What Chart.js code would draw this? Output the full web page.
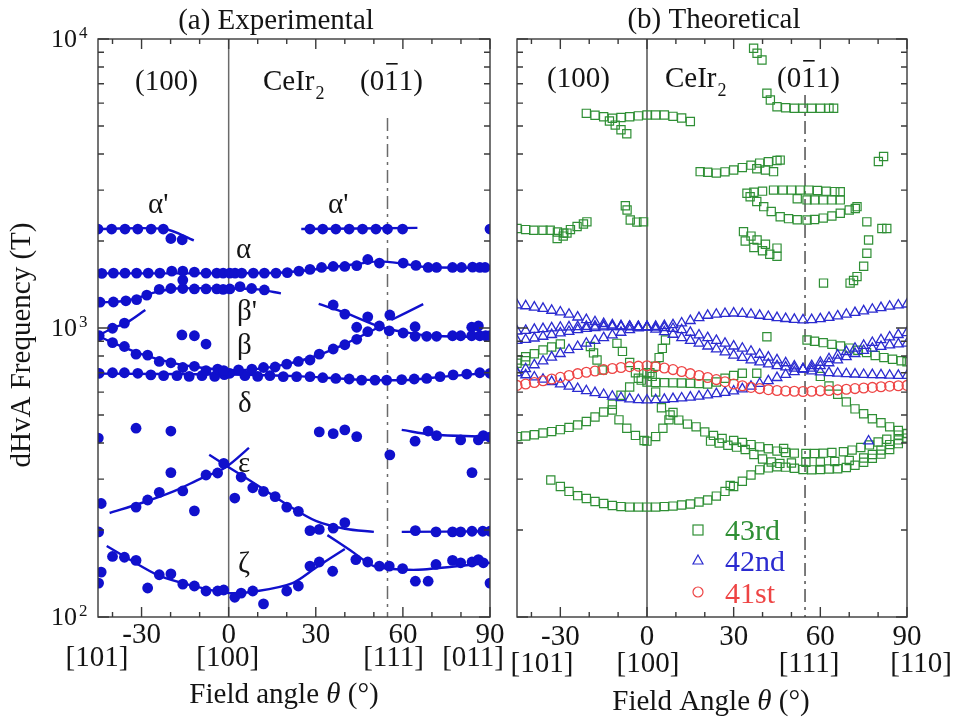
<!DOCTYPE html>
<html>
<head>
<meta charset="utf-8">
<script src="https://cdn.jsdelivr.net/npm/chart.js@4.4.1/dist/chart.umd.min.js"></script>
<style>
  html, body { margin: 0; padding: 0; background: #fff; }
  #wrap { position: relative; width: 956px; height: 719px; overflow: hidden; }
  canvas { position: absolute; top: 0; }
  #cA { left: 0; }
  #cB { left: 500px; }
</style>
</head>
<body>
<div id="wrap">
  <canvas id="cA" width="525" height="719"></canvas>
  <canvas id="cB" width="456" height="719"></canvas>
</div>
<script>
// ---- axes / tick labels ----
const xTickAngles = [-40, -30, -20, -10, 0, 10, 20, 30, 40, 50, 60, 70, 80, 90];
const xMajorAngles = [-30, 0, 30, 60, 90];
const yTickFreqs = [100, 200, 300, 400, 500, 600, 700, 800, 900,
  1000, 2000, 3000, 4000, 5000, 6000, 7000, 8000, 9000, 10000];
const yDecades = [100, 1000, 10000];
const yDecadeExp = ['2', '3', '4'];
const refAngles = [0, 54.7];
const dirAngles = [-45, 0, 54.7, 90];
const dirLabelsA = ['[101]', '[100]', '[111]', '[011]'];
const dirLabelsB = ['[101]', '[100]', '[111]', '[110]'];

// ---- (a) experimental dHvA frequencies [angle, F(T)] ----
const alphaPrimePts = [[-45, 2200], [-40.3, 2200], [-35.7, 2200], [-31.3, 2200], [-26.7, 2200], [-22.5, 2200],
  [-19.9, 2040], [-16, 2020], [28, 2200], [32.4, 2200], [36.9, 2200], [41.5, 2200], [46.1, 2200],
  [50.7, 2200], [54.7, 2200], [59.9, 2200], [90, 2200]];
const alphaPts = [[-43.7, 1545], [-39.7, 1549], [-35.7, 1549], [-31.7, 1549], [-27.7, 1549], [-23.7, 1549],
  [-19.6, 1573], [-15.8, 1573], [-11.8, 1560], [-7.8, 1549], [-4.1, 1549], [-1.9, 1549], [0.4, 1549],
  [2.2, 1549], [4.5, 1549], [8.5, 1549], [12.3, 1549], [16.3, 1549], [20.2, 1555], [24.2, 1573],
  [28, 1595], [32, 1620], [36, 1633], [40, 1633], [44.1, 1643], [47.9, 1726], [51.9, 1678], [60.1, 1678],
  [64.5, 1647], [68.7, 1620], [71.6, 1620], [77.1, 1620], [80.2, 1620], [84, 1625], [86.5, 1620], [88.3, 1620]];
const betaPrimePts = [[-44.3, 1228], [-39.7, 1230], [-35.4, 1242], [-31.7, 1253], [-28.2, 1300], [-23.9, 1360],
  [-19.9, 1370], [-15.8, 1370], [-15.8, 1465], [-11.8, 1365], [-7.8, 1365], [-4.1, 1365], [-1.9, 1360],
  [0.4, 1365], [3.9, 1390], [7.9, 1370], [12.3, 1354]];
const betaPts = [[-44.6, 940], [-40, 998], [-35.9, 1040], [-40, 890], [-35.9, 863], [-31.9, 812], [-27.9, 806],
  [-23.9, 766], [-19.9, 758], [-15.8, 730], [-11.8, 737], [-7.8, 712], [-3.8, 721], [-1.7, 712], [3.4, 716],
  [8, 721], [12, 730], [16, 733], [20, 750], [24, 766], [28, 775], [31.2, 812], [36, 846], [40, 875],
  [44.1, 914], [47.9, 971], [51.9, 1016], [55.3, 978], [-16.1, 946], [-11.8, 940], [-7.8, 880], [44.1, 1006],
  [36, 1201], [40, 1117], [47.9, 1093], [55.5, 1109], [60.1, 961], [64.2, 1010], [64.2, 936], [68.2, 936],
  [71.6, 936], [77.1, 940], [79.9, 940], [83.7, 1006], [86, 1016], [83.7, 940], [86.5, 940], [88.5, 940], [90, 940]];
const gammaPts = [[-44.6, 697], [-40, 700], [-35.9, 700], [-31.3, 697], [-26.8, 688], [-22.4, 684], [-17.8, 684],
  [-13.6, 680], [-9.2, 684], [-4.8, 680], [-1.5, 690], [0.4, 697], [5.6, 684], [10, 680], [14.2, 684],
  [18.8, 679], [23.4, 679], [28, 679], [32.4, 673], [36.9, 669], [41.5, 666], [45.8, 660], [50.4, 660],
  [54.4, 660], [59.6, 663], [63.9, 666], [68.2, 669], [72.8, 679], [77.3, 688], [82, 693], [86.5, 700], [90, 697]];
const deltaPts = [[-44.9, 416], [-31.9, 450], [-19.9, 440], [31.2, 437], [36, 431], [40, 444], [44.1, 421],
  [55.5, 364], [64.2, 406], [68.7, 440], [71.6, 424], [79.9, 410], [86, 410], [87.7, 424], [90, 419], [83.8, 316]];
const epsPts = [[-44.8, 197], [-43.9, 247], [-31.9, 240], [-27.9, 254], [-23.9, 270], [-19.9, 316], [-15.8, 273],
  [-11.8, 233], [-7.8, 310], [-3.8, 315], [-1.7, 340], [2.1, 258], [4.3, 305], [8.3, 280], [12, 272],
  [16, 261], [20, 240], [24, 232], [28, 199], [31.2, 201], [36, 203], [40, 212], [64.3, 199], [71.4, 197],
  [77.1, 197], [79.9, 197], [83.8, 198], [87.5, 198], [90, 198]];
const zetaPts = [[-44.8, 131], [-43.9, 143], [-40, 162], [-35.9, 161], [-31.9, 157], [-27.9, 126], [-23.9, 140],
  [-19.9, 141], [-15.8, 130], [-11.8, 128], [-7.8, 123], [-3.8, 123], [-1.7, 124], [2.1, 117], [4.3, 121],
  [8.3, 123], [12, 111], [20, 123], [24, 128], [28, 150], [31.2, 155], [35.8, 144], [43.8, 158], [47.9, 155],
  [51.9, 150], [55.3, 150], [59.9, 147], [64.3, 133], [68.7, 133], [71.4, 152], [77.1, 157], [79.9, 154],
  [83.8, 155], [86, 158], [87.7, 154], [90, 131]];

// guide-to-the-eye curves in (a)
const fitLines = [
  [[-45, 2200], [-22, 2200], [-12, 2010]],
  [[25, 2200], [65, 2220]],
  [[-45, 1545], [15, 1550], [25, 1575], [35, 1620], [45, 1670], [52, 1700], [60, 1670], [68, 1625], [90, 1615]],
  [[-45, 1225], [-35, 1245], [-25, 1330], [-18, 1370], [0, 1370], [10, 1360], [18, 1318]],
  [[-45, 940], [-40, 998], [-35, 1045], [-28.7, 1154]],
  [[-45, 940], [-40, 890], [-30, 812], [-20, 760], [-10, 730], [0, 715], [10, 722], [20, 750], [30, 800], [40, 880], [52, 1010]],
  [[31, 1212], [40, 1130], [52, 1010], [60, 970], [70, 940], [90, 931]],
  [[56, 1066], [67, 1209]],
  [[-45, 695], [0, 690], [25, 680], [45, 663], [60, 660], [75, 680], [90, 700]],
  [[59.6, 444], [70, 428], [90, 420]],
  [[-41, 229], [-30, 248], [-19, 272], [-10, 300], [-1, 330], [7, 385]],
  [[-6.7, 364], [0, 330], [10, 285], [20, 245], [30, 215], [40, 202], [50, 197]],
  [[59.6, 197], [90, 198]],
  [[-42, 176], [-35, 160], [-24, 139], [-12, 128], [0, 121], [10, 123], [22, 131], [30, 148], [40, 172]],
  [[34, 192], [42, 170], [50, 150], [60, 146], [67, 146], [90, 154]]
];

// ---- (b) theoretical branches ----
const thetaGrid = [-45, -42, -39, -36, -33, -30, -27, -24, -21, -18, -15, -12, -9, -6, -3, 0, 3, 6, 9, 12, 15, 18,
  21, 24, 27, 30, 33, 36, 39, 42, 45, 48, 51, 54, 57, 60, 63, 66, 69, 72, 75, 78, 81, 84, 87, 90];
const band41 = [633, 640, 648, 657, 666, 675, 685, 695, 703, 710, 718, 724, 730, 735, 738, 740, 735, 727, 718, 707,
  695, 685, 674, 663, 652, 640, 631, 623, 617, 612, 608, 605, 604, 603, 604, 606, 608, 611, 614, 617, 620, 623,
  626, 629, 631, 633];
const band42a = [1201, 1192, 1180, 1168, 1150, 1135, 1115, 1090, 1068, 1050, 1035, 1024, 1016, 1012, 1010, 1010,
  1012, 1018, 1025, 1040, 1060, 1085, 1105, 1115, 1122, 1125, 1122, 1115, 1105, 1095, 1085, 1077, 1070, 1066,
  1068, 1075, 1087, 1100, 1115, 1130, 1145, 1160, 1175, 1188, 1200, 1209];
const band42b = [975, 980, 988, 994, 1000, 1005, 1008, 1010, 1012, 1014, 1015, 1015, 1014, 1012, 1010, 1008, 1006,
  1002, 995, 985, 965, 945, 925, 905, 885, 865, 850, 830, 810, 792, 775, 757, 738, 720, 710, 704, 700, 697, 694,
  692, 690, 689, 688, 686, 685, 684];
const band42c = [905, 912, 922, 935, 948, 960, 972, 985, 995, 1002, 1008, 1010, 1010, 1008, 1006, 1005, 990, 970,
  950, 925, 905, 885, 865, 845, 825, 805, 790, 775, 762, 750, 740, 732, 725, 720, 725, 740, 757, 775, 795, 815,
  835, 850, 862, 873, 880, 885];
const band42e = [700, 688, 676, 664, 652, 640, 628, 617, 606, 597, 588, 580, 573, 568, 564, 563, 564, 566, 569,
  572, 576, 580, 586, 592, 598, 605, 615, 628, 642, 656, 673, 690, 705, 722, 740, 760, 782, 805, 828, 850, 870,
  890, 910, 930, 948, 963];
const band42d = [[-45, 700], [-42, 722], [-39, 745], [-36, 768], [-33, 792], [-30, 815], [-27, 840], [-24, 862],
  [-21, 885], [-18, 905], [-15, 925], [-12, 945], [-9, 965], [-6, 985], [-3, 1000], [0, 1008], [76.7, 406]];

const g43Top = [[36.9, 9287], [38.1, 8925], [39.8, 8460]];
const g43Upper = [[-21, 5530], [-18, 5450], [-15, 5385], [-12, 5320], [-9, 5350], [-6, 5385], [-3, 5420], [0, 5455],
  [3, 5455], [6, 5455], [9, 5400], [12, 5330], [15, 5180], [-13, 5200], [-11, 5035], [-9, 4850], [-7, 4700]];
const g43Upper2 = [[41.5, 6490], [42.7, 6150], [45, 5830], [48, 5780], [51, 5760], [54, 5760], [57, 5760],
  [60, 5760], [63, 5760], [64.6, 5760]];
const g43Mid = [[18.4, 3475], [21, 3460], [24, 3435], [27, 3470], [30, 3520], [33, 3590], [36, 3660], [39, 3720],
  [42, 3760], [45, 3800], [46.1, 3810], [38, 3555], [41, 3520], [43.8, 3475]];
const g43Loop = [[34.6, 2925], [37, 2950], [40, 2975], [43.8, 3000], [47, 3000], [50, 3000], [53, 3000], [56, 3000],
  [59, 2990], [62, 2975], [65, 2965], [66.9, 2960], [35.7, 2847], [38, 2740], [40.4, 2630], [43, 2530],
  [46.1, 2427], [49, 2390], [52, 2370], [55.4, 2364], [58, 2375], [61, 2400], [64, 2440], [66.9, 2495],
  [70, 2560], [72.7, 2630], [52, 2800], [55.4, 2775], [58, 2775], [61, 2775], [64, 2775], [66.9, 2775]];
const g43Tail = [[72.1, 2590], [76.1, 2330], [76.7, 2017], [76.1, 1815], [75, 1635], [72.7, 1506], [71.5, 1460],
  [70.3, 1430]];
const g43Pair = [[33.4, 2155], [36, 2080], [38.1, 2017], [41, 1950], [45, 1890], [34, 2000], [37, 1900], [40, 1850],
  [42.5, 1800], [45, 1770]];
const g43Left = [[-45, 2210], [-42, 2190], [-39.2, 2180], [-36, 2180], [-33.5, 2180], [-31, 2150], [-28.8, 2130],
  [-26.5, 2190], [-24.2, 2245], [-22, 2290], [-20.8, 2330], [-31.1, 2040], [-29, 2080], [-27.7, 2130],
  [-7.5, 2650], [-6.9, 2560], [-5.8, 2364], [-3.5, 2325], [-1.2, 2330]];
const g43Iso = [[61.1, 1430], [81.9, 3920], [80.1, 3770], [83, 2210], [81.3, 2210], [41.5, 933], [47.3, 383], [28.8, 285]];
const g43Low = [[-45, 775], [-42, 795], [-39, 815], [-36, 840], [-33, 860], [-30, 880], [-45, 755], [-42, 770],
  [-19.6, 863], [-18.5, 820], [-17.3, 775], [-15.5, 716], [-10.4, 885], [-8.5, 830], [-6, 760], [-4, 700],
  [-2, 660], [1.8, 680], [3, 737], [4.2, 790], [5.3, 850], [6.4, 909],
  [0, 650], [3, 648], [6, 647], [9, 646], [12, 645], [15, 644], [18, 642], [21, 640], [24, 650], [27, 670],
  [30, 685], [33, 697], [38, 697]];
const g43Rise = [[-45, 421], [-42, 423], [-39, 427], [-36, 433], [-33, 438], [-30, 445], [-27, 453], [-24, 462],
  [-21, 475], [-18, 492], [-15, 512], [-12, 545], [-9, 585], [-6, 625], [-3, 670], [0, 700],
  [-12, 520], [-9.7, 481], [-7, 450], [-4, 425], [-1, 408], [0, 406], [3, 421], [5.5, 450], [7.6, 481], [9, 510]];
const g43Fall = [[1, 700], [3, 600], [5, 530], [8, 500], [11, 480], [14, 465], [17, 455], [20, 437], [23, 425],
  [26, 415], [30, 408], [33, 402], [36, 395], [39, 388], [42, 382], [45, 375], [48, 371], [51, 369], [55, 368],
  [58, 368], [61, 369], [64, 371], [68, 373], [71, 378], [74, 386], [77, 394], [80, 403], [83, 412], [87, 426], [90, 431],
  [22, 406], [25, 400], [28, 393], [31, 387], [34, 380], [37, 365], [40, 352], [43, 344], [46, 340], [50, 341],
  [55, 343], [60, 344], [65, 345], [70, 348], [75, 355], [78, 365], [81, 378], [84, 395], [87, 410]];
const g43U = [[-33.3, 298], [-30, 283], [-27, 272], [-24, 263], [-21, 257], [-18, 251], [-15, 247], [-12, 243],
  [-9, 241], [-6, 240], [-3, 240], [0, 240], [3, 240], [6, 241], [9, 242], [12, 244], [15, 246], [18, 250],
  [21, 254], [24, 262], [27, 272], [30, 283], [33, 295], [36, 310], [39, 323], [42, 328], [45, 331], [48, 330],
  [51, 327], [54, 324], [57, 323], [60, 324], [63, 325], [66, 326], [69, 329], [72, 335], [75, 343], [78, 354],
  [81, 366], [84, 380], [87, 398], [90, 416]];
const g43Right = [[55.4, 909], [58, 900], [61, 890], [64, 878], [67, 866], [70, 852], [73, 838], [76, 822],
  [79, 803], [82, 790], [85, 780], [88, 770], [90, 764],
  [60, 680], [63, 630], [66, 590], [69, 555], [72, 525], [75, 505], [78, 485], [81, 470], [84, 455], [87, 442], [90, 432]];

// ---- styling ----
const SERIF = '"Liberation Serif", "Times New Roman", Times, serif';
const fnt = (s, it) => (it ? 'italic ' : '') + s + 'px ' + SERIF;
const BLUE = '#1010cc';
const GREEN = '#2f8f35';
const TRI = '#2b2bd0';
const RED = '#ee4444';
const INK = '#141414';

const toXY = arr => arr.map(p => ({ x: p[0], y: p[1] }));
const gridXY = vals => vals.map((v, i) => ({ x: thetaGrid[i], y: v }));

function text(ctx, s, x, y, size, opt) {
  opt = opt || {};
  ctx.font = fnt(size, opt.italic);
  ctx.fillStyle = opt.color || INK;
  ctx.textAlign = opt.align || 'left';
  ctx.textBaseline = 'alphabetic';
  ctx.fillText(s, x, y);
  return ctx.measureText(s).width;
}

function ceIr2(ctx, x, y) {
  const w = text(ctx, 'CeIr', x, y, 29);
  text(ctx, '2', x + w + 1, y + 9, 18);
}

// "(0 1-bar 1)" with the bar drawn over the middle index
function plane011(ctx, x, y) {
  const w1 = text(ctx, '(0', x, y, 29);
  const w2 = text(ctx, '1', x + w1, y, 29);
  text(ctx, '1)', x + w1 + w2, y, 29);
  ctx.fillStyle = INK;
  ctx.fillRect(x + w1 + 2, y - 27, w2 - 3, 1.6);
}

function fieldAngle(ctx, word, cx, y) {
  ctx.font = fnt(29);
  const a = 'Field ' + word + ' ', c = ' (\u00b0)';
  const wa = ctx.measureText(a).width, wc = ctx.measureText(c).width;
  ctx.font = fnt(29, true);
  const wb = ctx.measureText('\u03b8').width;
  let x = cx - (wa + wb + wc) / 2;
  x += text(ctx, a, x, y, 29);
  x += text(ctx, '\u03b8', x, y, 29, { italic: true });
  text(ctx, c, x, y, 29);
}

function drawRefs(chart, st) {
  const { ctx, chartArea: a } = chart;
  const x = chart.scales.x;
  ctx.save();
  ctx.strokeStyle = st.refColor; ctx.lineWidth = st.refWidth;
  let px = x.getPixelForValue(refAngles[0]);
  ctx.beginPath(); ctx.moveTo(px, a.top); ctx.lineTo(px, a.bottom); ctx.stroke();
  px = x.getPixelForValue(refAngles[1]);
  ctx.setLineDash([13, 5, 3, 5]);
  ctx.beginPath(); ctx.moveTo(px, st.dashTop); ctx.lineTo(px, a.bottom); ctx.stroke();
  ctx.restore();
}

function drawAxes(chart, st) {
  const { ctx, chartArea: a } = chart;
  const x = chart.scales.x, y = chart.scales.y;
  ctx.save();
  ctx.strokeStyle = st.frame; ctx.lineWidth = 1.4;
  ctx.strokeRect(a.left, a.top, a.right - a.left, a.bottom - a.top);
  ctx.beginPath();
  xTickAngles.forEach(v => {
    const px = x.getPixelForValue(v), len = xMajorAngles.includes(v) ? 10 : 5;
    ctx.moveTo(px, a.bottom); ctx.lineTo(px, a.bottom - len);
    ctx.moveTo(px, a.top); ctx.lineTo(px, a.top + len);
  });
  yTickFreqs.forEach(v => {
    const py = y.getPixelForValue(v), len = yDecades.includes(v) ? 11 : 6;
    ctx.moveTo(a.left, py); ctx.lineTo(a.left + len, py);
    ctx.moveTo(a.right, py); ctx.lineTo(a.right - len, py);
  });
  ctx.stroke();
  xMajorAngles.forEach(v => text(ctx, String(v), x.getPixelForValue(v), st.numBase, 29, { align: 'center' }));
  st.dirs.forEach((s, i) =>
    text(ctx, s, x.getPixelForValue(dirAngles[i]) + st.dirNudge[i], st.dirBase, 29, { align: 'center' }));
  ctx.restore();
}

// ---- panel (a) ----
const stA = { frame: '#3a3a3a', refColor: '#6a6a6a', refWidth: 1.5, dashTop: 118,
  numBase: 643, dirBase: 666, dirs: dirLabelsA, dirNudge: [-1, -1, 6, -17] };

const panelA = {
  id: 'panelA',
  beforeDatasetsDraw(chart) { drawRefs(chart, stA); },
  afterDraw(chart) {
    const ctx = chart.ctx, y = chart.scales.y;
    drawAxes(chart, stA);
    yDecades.forEach((v, i) => {
      const py = y.getPixelForValue(v);
      text(ctx, '10', 77, py + 8, 26, { align: 'right' });
      text(ctx, yDecadeExp[i], 79, py - 1, 17);
    });
    ctx.save();
    ctx.translate(30, 345); ctx.rotate(-Math.PI / 2);
    text(ctx, 'dHvA Frequency (T)', 0, 0, 29, { align: 'center' });
    ctx.restore();
    text(ctx, '(a) Experimental', 276, 29, 29, { align: 'center' });
    text(ctx, '(100)', 135, 90, 29);
    ceIr2(ctx, 263, 90);
    plane011(ctx, 360, 90);
    text(ctx, "\u03b1'", 148, 213, 29);
    text(ctx, "\u03b1'", 328, 213, 29);
    text(ctx, '\u03b1', 236, 258, 29);
    text(ctx, "\u03b2'", 237, 320, 29);
    text(ctx, '\u03b2', 237, 354, 29);
    text(ctx, '\u03b4', 238, 412, 29);
    text(ctx, '\u03b5', 238, 472, 29);
    text(ctx, '\u03b6', 238, 572, 29);
    fieldAngle(ctx, 'angle', 284, 703);
  }
};

const expSets = [alphaPrimePts, alphaPts, betaPrimePts, betaPts, gammaPts, deltaPts, epsPts, zetaPts].map(p => ({
  data: toXY(p), pointStyle: 'circle', pointRadius: 5.4, pointBackgroundColor: BLUE,
  pointBorderWidth: 0, showLine: false, order: 1
}));
const fitSets = fitLines.map(p => ({
  data: toXY(p), showLine: true, borderColor: BLUE, borderWidth: 2.4, pointRadius: 0,
  tension: 0.3, fill: false, order: 2
}));

function axesCfg() {
  return {
    x: { type: 'linear', min: -45, max: 90, display: false },
    y: { type: 'logarithmic', min: 100, max: 10000, display: false }
  };
}

new Chart(document.getElementById('cA'), {
  type: 'scatter',
  data: { datasets: expSets.concat(fitSets) },
  options: {
    responsive: false, animation: false, events: [],
    layout: { padding: { left: 98, right: 35, top: 39, bottom: 102 } },
    plugins: { legend: { display: false }, tooltip: { enabled: false } },
    scales: axesCfg()
  },
  plugins: [panelA]
});

// ---- panel (b) ----
const stB = { frame: '#3a3a3a', refColor: '#111', refWidth: 1.1, dashTop: 95,
  numBase: 645, dirBase: 672, dirs: dirLabelsB, dirNudge: [25, 1, 4, 14] };

const panelB = {
  id: 'panelB',
  beforeDatasetsDraw(chart) { drawRefs(chart, stB); },
  afterDraw(chart) {
    const ctx = chart.ctx;
    drawAxes(chart, stB);
    text(ctx, '(b) Theoretical', 214, 28, 29, { align: 'center' });
    text(ctx, '(100)', 47, 87, 29);
    ceIr2(ctx, 165, 87);
    plane011(ctx, 277, 87);
    // legend
    ctx.save();
    ctx.lineWidth = 1.2;
    ctx.strokeStyle = GREEN; ctx.strokeRect(193, 525, 10, 10);
    ctx.strokeStyle = TRI; ctx.beginPath();
    ctx.moveTo(198, 555); ctx.lineTo(203, 564); ctx.lineTo(193, 564); ctx.closePath(); ctx.stroke();
    ctx.strokeStyle = RED; ctx.beginPath(); ctx.arc(198, 592, 5, 0, Math.PI * 2); ctx.stroke();
    ctx.restore();
    text(ctx, '43rd', 225, 540, 30, { color: GREEN });
    text(ctx, '42nd', 225, 571, 30, { color: TRI });
    text(ctx, '41st', 225, 603, 30, { color: RED });
    fieldAngle(ctx, 'Angle', 211, 710);
  }
};

const green43 = [].concat(g43Top, g43Upper, g43Upper2, g43Mid, g43Loop, g43Tail, g43Pair, g43Left, g43Iso,
  g43Low, g43Rise, g43Fall, g43U, g43Right);
const blue42 = [].concat(gridXY(band42a), gridXY(band42b), gridXY(band42c), gridXY(band42e), toXY(band42d));

new Chart(document.getElementById('cB'), {
  type: 'scatter',
  data: {
    datasets: [
      { data: gridXY(band41), pointStyle: 'circle', pointRadius: 4.9, pointBorderColor: RED,
        pointBackgroundColor: 'rgba(255,255,255,0)', pointBorderWidth: 1.3, order: 1 },
      { data: blue42, pointStyle: 'triangle', pointRadius: 5.6, pointBorderColor: TRI,
        pointBackgroundColor: 'rgba(255,255,255,0)', pointBorderWidth: 1.3, order: 2 },
      { data: toXY(green43), pointStyle: 'rect', pointRadius: 5.8, pointBorderColor: GREEN,
        pointBackgroundColor: 'rgba(255,255,255,0)', pointBorderWidth: 1.2, order: 3 }
    ]
  },
  options: {
    responsive: false, animation: false, events: [],
    layout: { padding: { left: 17, right: 49, top: 39, bottom: 102 } },
    plugins: { legend: { display: false }, tooltip: { enabled: false } },
    scales: axesCfg()
  },
  plugins: [panelB]
});
</script>
</body>
</html>
